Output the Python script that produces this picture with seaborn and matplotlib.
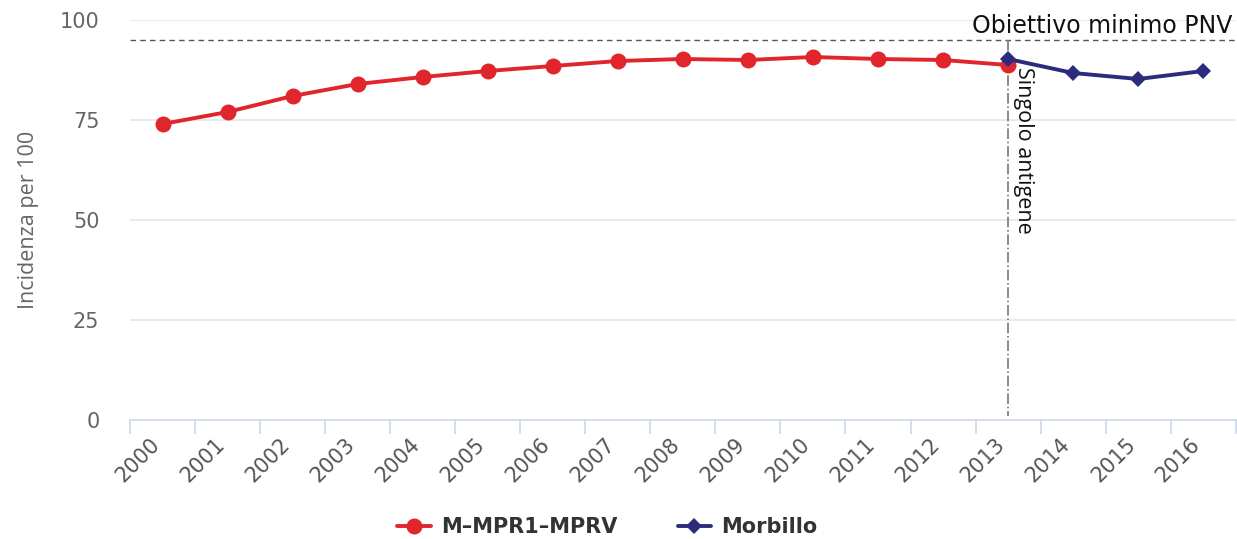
import matplotlib
matplotlib.use("Agg")
import matplotlib.pyplot as plt
import matplotlib.transforms as mtransforms
import seaborn as sns
import pandas as pd
import numpy as np

years = [str(y) for y in range(2000, 2017)]
mpr_years = years[:14]
mpr_values = [74.0, 77.0, 81.0, 84.0, 85.75, 87.25, 88.5, 89.75, 90.25, 90.0, 90.75, 90.25, 90.0, 88.75]
morb_years = ["2013", "2014", "2015", "2016"]
morb_values = [90.25, 86.75, 85.25, 87.25]
target_value = 95
target_label = "Obiettivo minimo PNV"
event_year = "2013"
event_label = "Singolo antigene"
series_names = ["M\u2013MPR1\u2013MPRV", "Morbillo"]
ylabel = "Incidenza per 100"

RED = "#e0252c"
NAVY = "#2b2d7c"

sns.set_theme(style="white")
plt.rcParams["font.family"] = ["Open Sans", "DejaVu Sans"]

pos = {y: i for i, y in enumerate(years)}
df = pd.concat([
    pd.DataFrame({"x": [pos[y] for y in mpr_years], "v": mpr_values, "s": series_names[0]}),
    pd.DataFrame({"x": [pos[y] for y in morb_years], "v": morb_values, "s": series_names[1]}),
])

fig = plt.figure(figsize=(12.37, 5.39), dpi=100)
ax = fig.add_axes([130 / 1237, 1 - 420 / 539, 1 - 130 / 1237 - 0.001, 400 / 539])

for t in [25, 50, 75, 100]:
    ax.axhline(t, color="#e6e6e6", lw=1.2, zorder=0)

sns.lineplot(data=df[df.s == series_names[0]], x="x", y="v", color=RED, lw=2.8,
             marker="o", markersize=11.5, markeredgewidth=0, ax=ax, zorder=3,
             label=series_names[0])
sns.lineplot(data=df[df.s == series_names[1]], x="x", y="v", color=NAVY, lw=2.8,
             marker="D", markersize=8.5, markeredgewidth=0, ax=ax, zorder=4,
             label=series_names[1])

ax.axhline(target_value, color="#555555", lw=1.0, ls=(0, (4, 3)), zorder=2)
ax.text(0.997, target_value + 0.6, target_label, transform=ax.get_yaxis_transform(),
        ha="right", va="bottom", fontsize=17, color="#111111",
        family=["DejaVu Sans"])

ex = pos[event_year]
ax.plot([ex, ex], [target_value, 1], color="#777777", lw=1.2, ls="-.",
        clip_on=False, zorder=2)
ax.text(ex + 0.07, 88.2, event_label, rotation=-90, ha="left", va="top",
        fontsize=15.5, color="#111111")

ax.set_xlim(-0.5, len(years) - 0.5)
ax.set_ylim(0, 100)
ax.set_xticks(range(len(years)))
ax.set_xticklabels(years, rotation=45, ha="right", rotation_mode="anchor",
                   fontsize=15, color="#555555", family=["DejaVu Sans"])
ax.set_xticks(np.arange(-0.5, len(years), 1.0), minor=True)
ax.tick_params(axis="x", which="major", length=0, pad=10)
ax.tick_params(axis="x", which="minor", bottom=True, length=10, width=1.2,
               color="#ccd6eb", direction="out")
ax.set_yticks([0, 25, 50, 75, 100])
ax.set_yticklabels(["0", "25", "50", "75", "100"], family=["DejaVu Sans"])
ax.tick_params(axis="y", length=0, labelsize=15, labelcolor="#666666", pad=22)
ax.set_xlabel("")
ax.set_ylabel(ylabel, fontsize=15.5, color="#666666", labelpad=15)

offset = mtransforms.ScaledTranslation(-13 / 100, 0, fig.dpi_scale_trans)
for lab in ax.get_xticklabels():
    lab.set_transform(lab.get_transform() + offset)

for s in ["top", "right", "left"]:
    ax.spines[s].set_visible(False)
ax.spines["bottom"].set_color("#ccd6eb")
ax.spines["bottom"].set_linewidth(1.2)

leg = ax.legend(loc="center", bbox_to_anchor=((608 - 130) / 1107, -(527 - 420) / 400),
                ncol=2, frameon=False,
                prop={"weight": "bold", "size": 15, "family": "DejaVu Sans"},
                handlelength=1.6, columnspacing=2.9, handletextpad=0.5)
for t in leg.get_texts():
    t.set_color("#333333")

fig.savefig("out.png", dpi=100)
